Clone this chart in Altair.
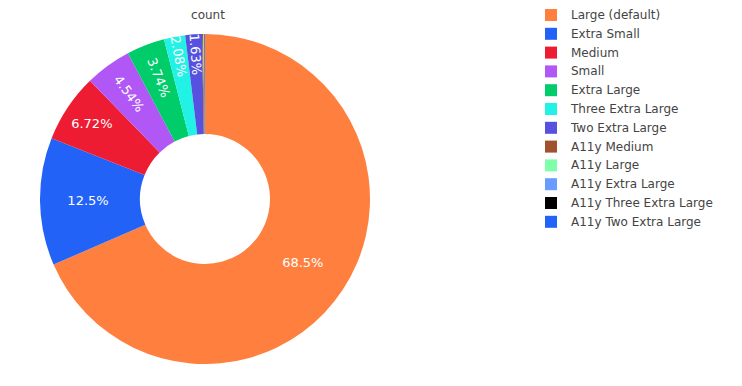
import altair as alt
import pandas as pd

names = ["Large (default)", "Extra Small", "Medium", "Small", "Extra Large",
         "Three Extra Large", "Two Extra Large", "A11y Medium", "A11y Large",
         "A11y Extra Large", "A11y Three Extra Large", "A11y Two Extra Large"]
counts = [6850, 1250, 672, 454, 374, 208, 163, 12, 5, 5, 4, 3]
rotated = [False, False, False, True, True, True, True, False, False, False, False, False]
colors = ["#ff7f3f", "#2262f7", "#ee1c33", "#b157f5", "#00cc6a", "#22f2e6",
          "#5651de", "#a0522d", "#7fffaa", "#6a9bff", "#000000", "#2262f7"]

df = pd.DataFrame({"name": names, "count": counts, "rot": rotated,
                   "idx": list(range(len(names)))})

FONT = "DejaVu Sans"
CX, CY = 197, 171

base = (
    alt.Chart(df)
    .transform_joinaggregate(total="sum(count)")
    .transform_window(cum="sum(count)", sort=[{"field": "idx"}], frame=[None, 0])
    .transform_calculate(
        pct="datum.count / datum.total * 100",
        mid="(datum.cum - datum.count / 2) / datum.total",
    )
    .transform_calculate(
        tmid="datum.mid * 2 * PI",
        ang="datum.rot ? datum.mid * 360 - 270 : 0",
        rad="datum.rot ? (datum.pct < 2.5 ? 145 : 130) : (datum.pct < 10 ? 136 : 117)",
        label="datum.pct >= 1 ? format(datum.pct, '.3~r') + '%' : ''",
    )
)

arc = base.mark_arc(innerRadius=65, outerRadius=165).encode(
    theta=alt.Theta("count:Q", stack=True),
    color=alt.Color(
        "name:N",
        scale=alt.Scale(domain=names, range=colors),
        legend=alt.Legend(
            title=None, orient="none", legendX=537, legendY=-19,
            symbolType="square", symbolSize=144, symbolStrokeWidth=0,
            labelFontSize=12, labelFont=FONT, labelColor="#444",
            rowPadding=6.8, labelOffset=14,
        ),
    ),
    order=alt.Order("idx:Q"),
    x=alt.value(CX),
    y=alt.value(CY),
)

text = base.mark_text(fontSize=13, font=FONT, color="white",
                      align="center", baseline="middle").encode(
    theta=alt.Theta("tmid:Q", scale=None),
    radius=alt.Radius("rad:Q", scale=None),
    text="label:N",
    angle=alt.Angle("ang:Q", scale=None),
    x=alt.value(CX),
    y=alt.value(CY),
)

chart = (
    alt.layer(arc, text)
    .properties(
        width=394, height=342,
        autosize=alt.AutoSizeParams(type="none"),
        padding={"left": 0, "top": 20, "right": 332, "bottom": 8},
        title=alt.TitleParams("count", fontSize=12, font=FONT, color="#444",
                              fontWeight="normal", anchor="middle", dx=3,
                              frame="group", offset=0, dy=13),
    )
    .configure(background="white")
    .configure_view(strokeWidth=0, stroke="transparent")
)

chart.save("out.html", embed_options={"renderer": "svg", "actions": False})
